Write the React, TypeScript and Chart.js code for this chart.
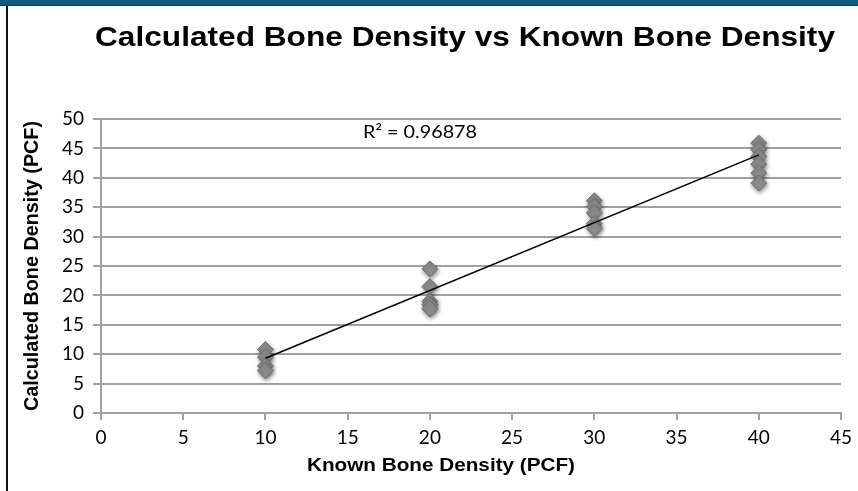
import React, { useEffect, useRef } from "react";
import { Chart, registerables } from "chart.js";

Chart.register(...registerables);

const chartTitle = "Calculated Bone Density vs Known Bone Density";
const xTitle = "Known Bone Density (PCF)";
const yTitle = "Calculated Bone Density (PCF)";
const rSquaredLabel = "R² = 0.96878";

const knownDensity = [10, 10, 10, 10, 20, 20, 20, 20, 20, 30, 30, 30, 30, 30, 40, 40, 40, 40, 40, 40];
const calculatedDensity = [10.8, 9.5, 8.0, 7.2, 24.5, 21.5, 19.0, 18.4, 17.7, 36.1, 35.1, 34.0, 32.2, 31.4, 45.9, 44.8, 43.6, 42.3, 40.8, 39.1];

const trendX = [10, 40];
const trendY = [9.3, 43.9];

const xTicks = [0, 5, 10, 15, 20, 25, 30, 35, 40, 45];
const yTicks = [0, 5, 10, 15, 20, 25, 30, 35, 40, 45, 50];

const textPlugin = {
  id: "textPlugin",
  beforeDatasetDraw(chart: any, args: any) {
    if (args.index === 1) {
      const ctx = chart.ctx;
      ctx.save();
      ctx.shadowColor = "rgba(0,0,0,0.45)";
      ctx.shadowBlur = 4;
      ctx.shadowOffsetX = 1;
      ctx.shadowOffsetY = 2;
    }
  },
  afterDatasetDraw(chart: any, args: any) {
    if (args.index === 1) chart.ctx.restore();
  },
  afterDraw(chart: any) {
    const ctx = chart.ctx;
    const drawScaled = (text: string, font: string, cx: number, cy: number, width: number) => {
      ctx.save();
      ctx.font = font;
      ctx.fillStyle = "#000";
      ctx.textAlign = "center";
      ctx.textBaseline = "middle";
      const w = ctx.measureText(text).width;
      ctx.translate(cx, cy);
      ctx.scale(width / w, 1);
      ctx.fillText(text, 0, 0);
      ctx.restore();
    };
    drawScaled(chartTitle, "bold 28px 'Liberation Sans', Arial, sans-serif", 465, 38, 740);
    drawScaled(xTitle, "bold 18px 'Liberation Sans', Arial, sans-serif", 441, 466, 268);
    ctx.save();
    ctx.font = "bold 20px 'Liberation Sans', Arial, sans-serif";
    ctx.fillStyle = "#000";
    ctx.textAlign = "center";
    ctx.textBaseline = "middle";
    ctx.translate(32, 266);
    ctx.rotate(-Math.PI / 2);
    const w = ctx.measureText(yTitle).width;
    ctx.scale(290 / w, 1);
    ctx.fillText(yTitle, 0, 0);
    ctx.restore();
    const xs = chart.scales.x;
    const ys = chart.scales.y;
    drawScaled(rSquaredLabel, "18px Lato, 'Open Sans', sans-serif", xs.getPixelForValue(19.4), ys.getPixelForValue(47.7), 114);
  },
};

export default function App() {
  const ref = useRef<HTMLCanvasElement | null>(null);
  useEffect(() => {
    if (!ref.current) return;
    const tickFont = { family: "Lato, 'Open Sans', sans-serif", size: 19 };
    const chart = new Chart(ref.current, {
      type: "scatter",
      data: {
        datasets: [
          {
            type: "line",
            data: trendX.map((x, i) => ({ x, y: trendY[i] })),
            borderColor: "#000",
            borderWidth: 1.6,
            pointRadius: 0,
            fill: false,
          },
          {
            data: knownDensity.map((x, i) => ({ x, y: calculatedDensity[i] })),
            pointStyle: "rectRot",
            pointRadius: 8,
            backgroundColor: "#8e8e8e",
            borderColor: "#707070",
            borderWidth: 1,
          },
        ],
      } as any,
      options: {
        animation: false,
        responsive: false,
        maintainAspectRatio: false,
        layout: { padding: { top: 119, right: 15, bottom: 0, left: 0 } },
        plugins: { legend: { display: false }, tooltip: { enabled: false }, title: { display: false } },
        scales: {
          x: {
            type: "linear",
            min: 0,
            max: 45,
            afterBuildTicks: (s: any) => {
              s.ticks = xTicks.map((v) => ({ value: v }));
            },
            afterFit: (s: any) => {
              s.height = 78;
            },
            ticks: { font: tickFont, color: "#000", padding: 6, maxRotation: 0 },
            grid: { drawOnChartArea: false, drawTicks: true, tickLength: 7, color: "#a0a0a0", lineWidth: 2 },
            border: { display: true, color: "#a0a0a0", width: 2 },
          },
          y: {
            type: "linear",
            min: 0,
            max: 50,
            afterBuildTicks: (s: any) => {
              s.ticks = yTicks.map((v) => ({ value: v }));
            },
            afterFit: (s: any) => {
              s.width = 101;
            },
            ticks: { font: tickFont, color: "#000", padding: 9 },
            grid: { drawOnChartArea: true, drawTicks: true, tickLength: 8, color: "#a0a0a0", lineWidth: 2 },
            border: { display: true, color: "#a0a0a0", width: 2 },
          },
        },
      } as any,
      plugins: [textPlugin],
    });
    return () => chart.destroy();
  }, []);

  return (
    <div style={{ position: "fixed", left: 0, top: 0, width: 858, height: 491, background: "#fff", overflow: "hidden" }}>
      <canvas ref={ref} width={858} height={491} style={{ position: "absolute", left: 0, top: 0, width: 858, height: 491 }} />
      <div style={{ position: "absolute", left: 0, top: 0, width: 858, height: 5, background: "#0c5a86", borderBottom: "1px solid #223a4c" }} />
      <div style={{ position: "absolute", left: 6, top: 6, width: 2, height: 485, background: "#111" }} />
    </div>
  );
}
